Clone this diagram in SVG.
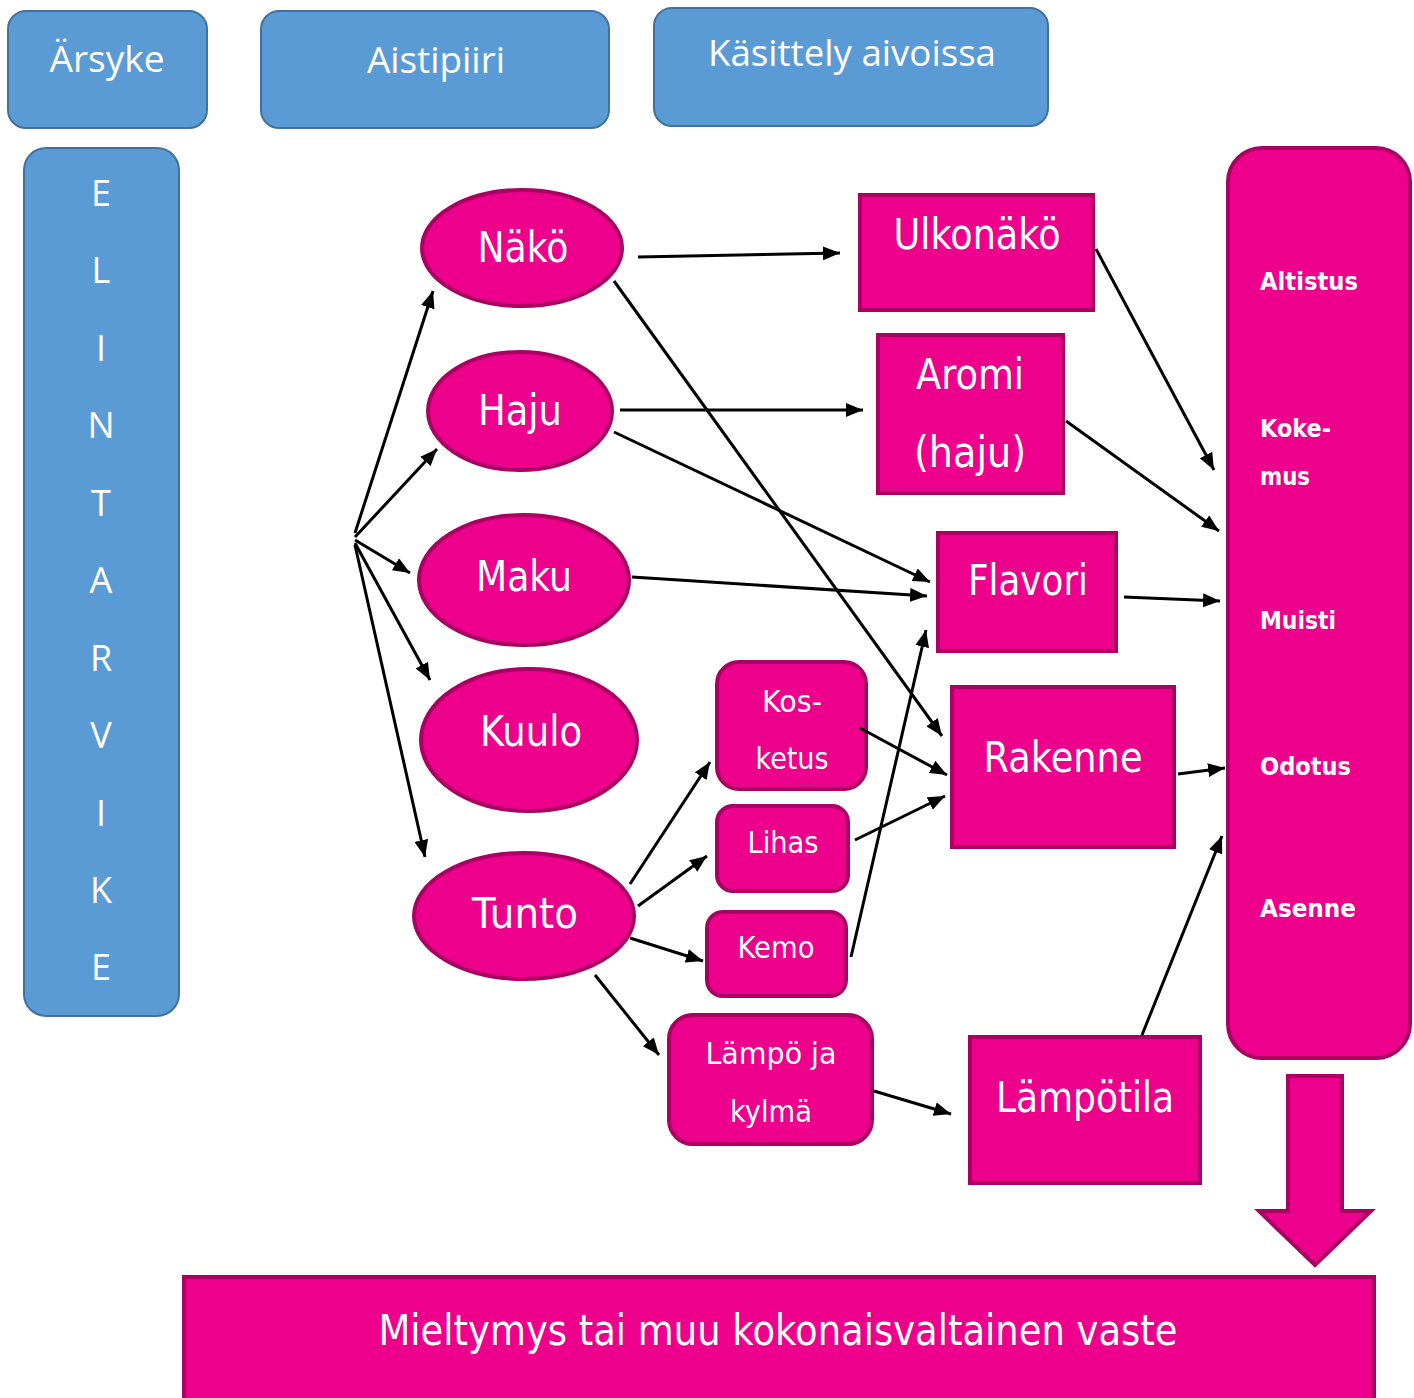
<svg xmlns="http://www.w3.org/2000/svg" width="1414" height="1398" viewBox="0 0 1414 1398">
  <style>
    .blue { fill: #5B9BD5; stroke: #41719C; stroke-width: 2; }
    .pink { fill: #EC008C; stroke: #AA0064; stroke-width: 4; }
    .htxt { font-family: "Open Sans", "Liberation Sans", sans-serif; font-size: 36px; fill: #FFFFFF; text-anchor: middle; }
    .ptxt { font-family: "DejaVu Sans", "Liberation Sans", sans-serif; fill: #FFFFFF; text-anchor: middle; }
    .btxt { font-family: "DejaVu Sans", "Liberation Sans", sans-serif; font-weight: bold; font-size: 25px; fill: #FFFFFF; }
    .link { stroke: #000000; stroke-width: 3; fill: none; marker-end: url(#arrow); }
  </style>
  <defs>
    <marker id="arrow" markerUnits="userSpaceOnUse" markerWidth="18" markerHeight="14" refX="17" refY="7" orient="auto">
      <path d="M0,0 L17,7 L0,14 z" fill="#000000"/>
    </marker>
  </defs>

  <rect width="1414" height="1398" fill="#FFFFFF"/>

  <!-- column headers -->
  <g id="hdr-arsyke">
    <rect class="blue" x="8" y="11" width="199" height="117" rx="18"/>
    <text class="htxt" x="107" y="72" textLength="115" lengthAdjust="spacingAndGlyphs">Ärsyke</text>
  </g>
  <g id="hdr-aistipiiri">
    <rect class="blue" x="261" y="11" width="348" height="117" rx="18"/>
    <text class="htxt" x="436" y="73" textLength="138" lengthAdjust="spacingAndGlyphs">Aistipiiri</text>
  </g>
  <g id="hdr-kasittely">
    <rect class="blue" x="654" y="8" width="394" height="118" rx="18"/>
    <text class="htxt" x="852" y="66" textLength="288" lengthAdjust="spacingAndGlyphs">Käsittely aivoissa</text>
  </g>

  <!-- food column -->
  <g id="elintarvike">
    <rect class="blue" x="24" y="148" width="155" height="868" rx="22"/>
    <g class="htxt">
      <text x="101" y="206">E</text>
      <text x="101" y="283">L</text>
      <text x="101" y="361">I</text>
      <text x="101" y="438">N</text>
      <text x="101" y="516">T</text>
      <text x="101" y="593">A</text>
      <text x="101" y="671">R</text>
      <text x="101" y="748">V</text>
      <text x="101" y="826">I</text>
      <text x="101" y="903">K</text>
      <text x="101" y="980">E</text>
    </g>
  </g>

  <!-- senses -->
  <g id="nako">
    <ellipse class="pink" cx="522" cy="248" rx="100" ry="58"/>
    <text class="ptxt" x="523" y="262" font-size="42" textLength="91" lengthAdjust="spacingAndGlyphs">Näkö</text>
  </g>
  <g id="haju">
    <ellipse class="pink" cx="520" cy="411" rx="92" ry="59"/>
    <text class="ptxt" x="520" y="425" font-size="42" textLength="84" lengthAdjust="spacingAndGlyphs">Haju</text>
  </g>
  <g id="maku">
    <ellipse class="pink" cx="524" cy="580" rx="105" ry="65"/>
    <text class="ptxt" x="524" y="591" font-size="42" textLength="96" lengthAdjust="spacingAndGlyphs">Maku</text>
  </g>
  <g id="kuulo">
    <ellipse class="pink" cx="529" cy="740" rx="108" ry="71"/>
    <text class="ptxt" x="531" y="746" font-size="42" textLength="102" lengthAdjust="spacingAndGlyphs">Kuulo</text>
  </g>
  <g id="tunto">
    <ellipse class="pink" cx="524" cy="916" rx="110" ry="63"/>
    <text class="ptxt" x="525" y="928" font-size="42" textLength="106" lengthAdjust="spacingAndGlyphs">Tunto</text>
  </g>

  <!-- touch sub-senses -->
  <g id="kosketus">
    <rect class="pink" x="717" y="662" width="149" height="127" rx="22"/>
    <text class="ptxt" x="792" y="712" font-size="30" textLength="60" lengthAdjust="spacingAndGlyphs">Kos-</text>
    <text class="ptxt" x="792" y="769" font-size="30" textLength="73" lengthAdjust="spacingAndGlyphs">ketus</text>
  </g>
  <g id="lihas">
    <rect class="pink" x="717" y="806" width="131" height="85" rx="16"/>
    <text class="ptxt" x="783" y="853" font-size="30" textLength="71" lengthAdjust="spacingAndGlyphs">Lihas</text>
  </g>
  <g id="kemo">
    <rect class="pink" x="707" y="912" width="139" height="84" rx="16"/>
    <text class="ptxt" x="776" y="958" font-size="30" textLength="77" lengthAdjust="spacingAndGlyphs">Kemo</text>
  </g>
  <g id="lampo">
    <rect class="pink" x="669" y="1015" width="203" height="129" rx="24"/>
    <text class="ptxt" x="771" y="1064" font-size="30" textLength="131" lengthAdjust="spacingAndGlyphs">Lämpö ja</text>
    <text class="ptxt" x="771" y="1122" font-size="30" textLength="82" lengthAdjust="spacingAndGlyphs">kylmä</text>
  </g>

  <!-- perceived attributes -->
  <g id="ulkonako">
    <rect class="pink" x="860" y="195" width="233" height="115"/>
    <text class="ptxt" x="977" y="249" font-size="42" textLength="167" lengthAdjust="spacingAndGlyphs">Ulkonäkö</text>
  </g>
  <g id="aromi">
    <rect class="pink" x="878" y="335" width="185" height="158"/>
    <text class="ptxt" x="970" y="389" font-size="42" textLength="108" lengthAdjust="spacingAndGlyphs">Aromi</text>
    <text class="ptxt" x="970" y="467" font-size="42" textLength="112" lengthAdjust="spacingAndGlyphs">(haju)</text>
  </g>
  <g id="flavori">
    <rect class="pink" x="938" y="533" width="178" height="118"/>
    <text class="ptxt" x="1028" y="595" font-size="42" textLength="120" lengthAdjust="spacingAndGlyphs">Flavori</text>
  </g>
  <g id="rakenne">
    <rect class="pink" x="952" y="687" width="222" height="160"/>
    <text class="ptxt" x="1063" y="772" font-size="42" textLength="159" lengthAdjust="spacingAndGlyphs">Rakenne</text>
  </g>
  <g id="lampotila">
    <rect class="pink" x="970" y="1037" width="230" height="146"/>
    <text class="ptxt" x="1085" y="1112" font-size="42" textLength="178" lengthAdjust="spacingAndGlyphs">Lämpötila</text>
  </g>

  <!-- brain factors column -->
  <g id="tekijat">
    <rect class="pink" x="1228" y="148" width="182" height="910" rx="34"/>
    <text class="btxt" x="1260" y="290" textLength="98" lengthAdjust="spacingAndGlyphs">Altistus</text>
    <text class="btxt" x="1260" y="437" textLength="71" lengthAdjust="spacingAndGlyphs">Koke-</text>
    <text class="btxt" x="1260" y="485" textLength="50" lengthAdjust="spacingAndGlyphs">mus</text>
    <text class="btxt" x="1260" y="629" textLength="76" lengthAdjust="spacingAndGlyphs">Muisti</text>
    <text class="btxt" x="1260" y="775" textLength="91" lengthAdjust="spacingAndGlyphs">Odotus</text>
    <text class="btxt" x="1260" y="917" textLength="96" lengthAdjust="spacingAndGlyphs">Asenne</text>
  </g>

  <!-- block arrow down -->
  <g id="nuoli">
    <path class="pink" d="M1288,1076 L1342,1076 L1342,1211 L1371,1211 L1315,1265 L1259,1211 L1288,1211 Z" stroke-width="3.5"/>
  </g>

  <!-- overall response -->
  <g id="vaste">
    <rect class="pink" x="184" y="1277" width="1190" height="140"/>
    <text class="ptxt" x="778" y="1345" font-size="42" textLength="799" lengthAdjust="spacingAndGlyphs">Mieltymys tai muu kokonaisvaltainen vaste</text>
  </g>

  <!-- connectors -->
  <g id="connectors">
    <line class="link" x1="355" y1="533" x2="433" y2="291"/>
    <line class="link" x1="355" y1="537" x2="437" y2="449"/>
    <line class="link" x1="355" y1="540" x2="410" y2="573"/>
    <line class="link" x1="355" y1="543" x2="430" y2="680"/>
    <line class="link" x1="355" y1="545" x2="425" y2="857"/>

    <line class="link" x1="638" y1="257" x2="840" y2="253"/>
    <line class="link" x1="614" y1="281" x2="942" y2="736"/>
    <line class="link" x1="620" y1="410" x2="863" y2="410"/>
    <line class="link" x1="614" y1="432" x2="930" y2="582"/>
    <line class="link" x1="632" y1="577" x2="927" y2="596"/>
    <line class="link" x1="851" y1="957" x2="926" y2="630"/>

    <line class="link" x1="1096" y1="249" x2="1214" y2="470"/>
    <line class="link" x1="1066" y1="421" x2="1219" y2="531"/>
    <line class="link" x1="1124" y1="597" x2="1220" y2="601"/>
    <line class="link" x1="1178" y1="774" x2="1225" y2="768"/>
    <line class="link" x1="1142" y1="1035" x2="1222" y2="836"/>

    <line class="link" x1="630" y1="884" x2="710" y2="762"/>
    <line class="link" x1="638" y1="906" x2="707" y2="856"/>
    <line class="link" x1="630" y1="938" x2="703" y2="961"/>
    <line class="link" x1="595" y1="975" x2="659" y2="1055"/>

    <line class="link" x1="860" y1="728" x2="947" y2="775"/>
    <line class="link" x1="855" y1="840" x2="945" y2="796"/>
    <line class="link" x1="874" y1="1091" x2="951" y2="1114"/>
  </g>
</svg>
